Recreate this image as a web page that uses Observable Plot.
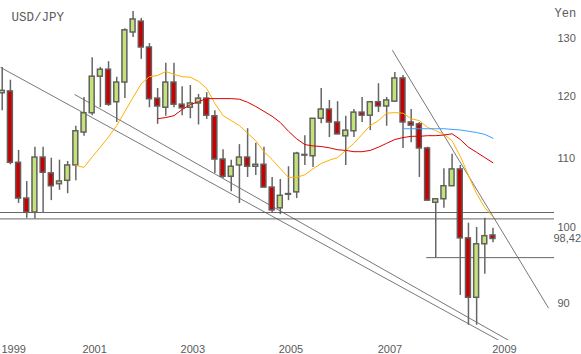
<!DOCTYPE html>
<html><head><meta charset="utf-8">
<script src="https://cdn.jsdelivr.net/npm/d3@7"></script>
<script src="https://cdn.jsdelivr.net/npm/@observablehq/plot@0.6"></script>
<style>
html,body{margin:0;padding:0;background:#fff;}
#chart{width:581px;height:354px;overflow:hidden;}
</style></head><body><div id="chart"></div>
<script>
// Bimonthly USD/JPY candles, May-Jun 1999 .. May 2009 (index 0..60)
const opens  = [120.5,120.8,109.4,104.1,102.1,110.2,107.8,106.2,106.7,109.0,
                114.1,117.2,123.3,124.5,119.0,122.3,131.1,133.1,128.4,119.6,
                118.1,122.3,118.6,118.1,118.8,119.6,116.7,109.9,107.3,109.0,
                110.2,108.8,109.1,105.7,102.7,104.65,105.0,110.5,110.4,116.3,
                117.8,115.7,113.5,114.3,117.3,116.8,119.0,118.3,119.1,123.0,
                115.7,115.4,111.6,103.5,104.0,105.9,108.4,98.5,90.7,97.7,98.9];
const highs  = [124.9,122.7,111.3,106.6,111.8,111.8,110.1,109.8,109.6,115.1,
                119.8,126.6,124.9,125.9,123.2,131.8,135.0,133.7,129.1,121.3,
                125.6,125.6,121.6,121.8,120.3,120.6,117.6,111.4,109.8,112.2,
                114.7,112.4,111.8,107.2,106.9,108.8,111.0,113.6,116.3,121.3,
                119.3,119.1,116.7,117.8,119.8,119.1,122.1,119.8,124.0,123.5,
                117.8,115.7,111.8,104.0,108.5,110.7,109.0,100.6,100.0,101.3,99.9];
const lows   = [117.6,109.1,103.4,101.3,101.2,102.1,103.8,105.3,104.8,106.7,
                113.5,116.8,118.1,118.3,115.7,119.6,130.2,126.3,118.1,115.4,
                116.7,118.1,116.8,116.3,115.3,116.2,107.8,107.0,105.1,103.4,
                107.2,107.5,105.7,102.1,101.8,103.8,104.1,109.0,108.7,115.5,
                113.3,113.8,109.0,113.3,115.7,114.4,117.3,115.1,119.0,111.6,
                112.5,107.2,103.8,95.9,102.7,105.9,91.0,87.3,87.3,93.7,97.9];
const closes = [120.9,109.4,104.1,102.1,110.2,107.9,105.9,106.6,109.0,114.3,
                117.2,123.3,124.5,118.6,122.3,131.5,133.5,128.4,119.5,118.3,
                122.3,118.6,118.0,118.8,119.6,116.8,109.9,107.3,108.8,110.2,
                108.8,109.1,105.7,102.4,104.5,104.75,110.8,110.6,116.3,117.8,
                115.7,113.8,114.4,117.3,116.8,119.0,118.3,119.3,123.0,115.7,
                115.2,111.6,103.8,104.0,105.9,108.4,98.5,90.7,97.7,98.8,98.42];

// Moving averages (first value sits at the given candle index)
const maFastStart = 9;
const maFast = [109.0,108.7,110.3,111.8,113.4,115.2,117.5,119.8,122.1,123.3,
                123.5,124.2,123.7,123.3,123.2,122.5,121.3,118.8,116.8,116.0,
                115.2,114.0,112.8,111.1,109.9,108.5,107.2,107.2,107.6,108.5,
                109.3,109.8,110.2,111.3,112.4,113.8,115.2,116.0,117.2,117.3,
                117.2,116.3,116.0,114.9,114.4,113.8,112.8,110.4,107.5,104.8,
                102.8,101.5];
const maMidStart = 19;
const maMid  = [116.3,116.5,116.8,117.8,118.6,119.1,119.6,119.6,119.6,119.6,
                119.5,119.0,118.3,117.5,116.7,115.7,114.3,113.1,112.2,112.0,
                111.9,111.7,111.4,111.3,111.1,111.1,111.3,111.8,112.4,113.0,
                113.3,113.5,113.5,113.6,113.6,113.7,113.9,113.0,111.8,111.0,
                110.2,109.4];
const maSlowStart = 49;
const maSlow = [114.7,114.7,114.7,114.7,114.7,114.7,114.6,114.5,114.3,114.1,113.8,113.2];

// Trend lines: [start index, start value, end index, end value]
const trendlines = [[-0.21,124.9,60.7,85.5],[8.84,120.3,61.9,85.5],[47.7,127.9,66.8,89.4]];
const supportLevels = [102.1, 101.2];
const marchLow = [{from:51.9, to:67.52, value:95.9}];

const yTicks = [90,100,110,120,130];
const lastPrice = 98.42;
const xTickLabels = ["1999","2001","2003","2005","2007","2009"];
const xTickAt = [-0.1, 9.8, 21.8, 33.8, 45.9, 59.9];

const candles = opens.map((o,i)=>({i, open:o, high:highs[i], low:lows[i], close:closes[i], up: closes[i] >= o}));
const toSeries = (arr, start) => arr.map((v,k)=>({i:start+k, v}));
const trendData = trendlines.map(([i1,v1,i2,v2])=>({i1,v1,i2,v2}));

const chart = Plot.plot({
  width:581, height:354,
  marginLeft:0, marginRight:27, marginTop:0, marginBottom:14,
  style:{fontFamily:"'Liberation Sans', Arial, sans-serif", fontSize:"11px", color:"#5a5a5a", background:"#fff"},
  x:{domain:[-0.21, 67.52], axis:null},
  y:{type:"log", domain:[85.475, 137.06], axis:null},
  marks:[
    Plot.ruleY(supportLevels, {stroke:"#666", strokeWidth:1}),
    Plot.ruleY(marchLow, {y:"value", x1:"from", x2:"to", stroke:"#666", strokeWidth:1}),
    Plot.link(trendData, {x1:"i1", y1:"v1", x2:"i2", y2:"v2", stroke:"#555", strokeWidth:0.8, clip:true}),
    Plot.ruleX(candles, {x:"i", y1:"low", y2:"high", stroke:"#666", strokeWidth:1.5}),
    Plot.rect(candles, {x1:d=>d.i-0.3, x2:d=>d.i+0.3, y1:"open", y2:"close",
      fill:d=>d.up ? "#c4e27a" : "#c80000", stroke:"#606060", strokeWidth:1.5}),
    Plot.lineY(toSeries(maFast, maFastStart), {x:"i", y:"v", stroke:"#ffb000", strokeWidth:1}),
    Plot.lineY(toSeries(maMid, maMidStart), {x:"i", y:"v", stroke:"#dd0000", strokeWidth:1}),
    Plot.lineY(toSeries(maSlow, maSlowStart), {x:"i", y:"v", stroke:"#3aa0ff", strokeWidth:1}),
    Plot.axisY(yTicks, {anchor:"right", tickSize:0, tickPadding:3, fontSize:11}),
    Plot.axisY([lastPrice], {anchor:"right", tickSize:0, tickPadding:0, dx:-1, fontSize:11,
      tickFormat:d=>d.toFixed(2).replace(".", ",")}),
    Plot.text(xTickLabels, {x:(d,i)=>xTickAt[i], frameAnchor:"bottom", dy:9, textAnchor:"start", lineAnchor:"middle", fontSize:11}),
    Plot.text(["USD/JPY"], {frameAnchor:"top-left", dx:11, dy:16, textAnchor:"start", lineAnchor:"middle",
      fontFamily:"'Liberation Mono', monospace", fontSize:12.5}),
    Plot.text(["Yen"], {frameAnchor:"top-right", dx:0, dy:13, textAnchor:"start", lineAnchor:"middle",
      fontFamily:"'Liberation Mono', monospace", fontSize:12})
  ]
});
document.getElementById("chart").appendChild(chart);
</script>
</body></html>
